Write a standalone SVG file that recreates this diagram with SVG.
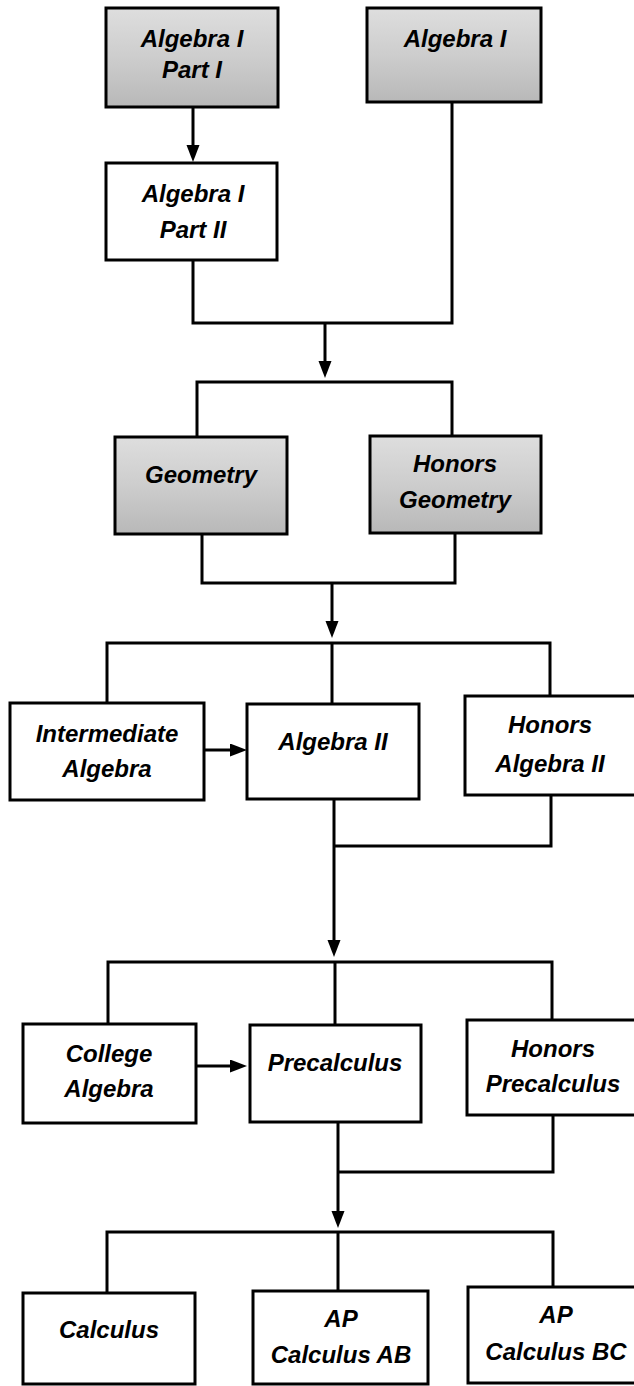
<svg xmlns="http://www.w3.org/2000/svg" width="634" height="1386" viewBox="0 0 634 1386">
<defs>
<linearGradient id="grayFill" x1="0" y1="0" x2="0" y2="1">
<stop offset="0" stop-color="#dedede"/>
<stop offset="0.5" stop-color="#cdcdcd"/>
<stop offset="1" stop-color="#b8b8b8"/>
</linearGradient>
<marker id="arrow" markerUnits="userSpaceOnUse" markerWidth="18" markerHeight="14" refX="7" refY="6.5" orient="auto">
<path d="M0,0 L17,6.5 L0,13 z" fill="#000"/>
</marker>
</defs>
<style>
.box{fill:#fff;stroke:#000;stroke-width:3}
.gbox{fill:url(#grayFill);stroke:#000;stroke-width:3}
.lbl{font-family:"Liberation Sans",Arial,sans-serif;font-weight:bold;font-style:italic;font-size:24px;fill:#000;text-anchor:middle}
.conn{fill:none;stroke:#000;stroke-width:3}
</style>
<rect width="634" height="1386" fill="#fff"/>
<g id="connectors">
<path class="conn" d="M193,107 V152" marker-end="url(#arrow)"/>
<path class="conn" d="M193,260 V323 H452 V102"/>
<path class="conn" d="M325,323 V368" marker-end="url(#arrow)"/>
<path class="conn" d="M197,437 V382 H452 V436"/>
<path class="conn" d="M202,534 V583 H455 V533"/>
<path class="conn" d="M332,583 V628" marker-end="url(#arrow)"/>
<path class="conn" d="M107,703 V643 H550 V696"/>
<path class="conn" d="M332,643 V704"/>
<path class="conn" d="M204,750 H237" marker-end="url(#arrow)"/>
<path class="conn" d="M551,795 V846 H334"/>
<path class="conn" d="M334,799 V947" marker-end="url(#arrow)"/>
<path class="conn" d="M108,1024 V962 H552 V1020"/>
<path class="conn" d="M335,962 V1025"/>
<path class="conn" d="M196,1066 H237" marker-end="url(#arrow)"/>
<path class="conn" d="M553,1115 V1172 H338"/>
<path class="conn" d="M338,1122 V1218" marker-end="url(#arrow)"/>
<path class="conn" d="M107,1293 V1232 H553 V1287"/>
<path class="conn" d="M338,1232 V1291"/>
</g>
<g id="alg1-part1">
<rect class="gbox" x="106" y="8" width="172" height="99"/>
<text class="lbl" x="192" y="47">Algebra I</text>
<text class="lbl" x="192" y="78">Part I</text>
</g>
<g id="alg1">
<rect class="gbox" x="367" y="8" width="174" height="94"/>
<text class="lbl" x="455" y="47">Algebra I</text>
</g>
<g id="alg1-part2">
<rect class="box" x="106" y="163" width="171" height="97"/>
<text class="lbl" x="193" y="202">Algebra I</text>
<text class="lbl" x="193" y="238">Part II</text>
</g>
<g id="geometry">
<rect class="gbox" x="115" y="437" width="172" height="97"/>
<text class="lbl" x="201" y="483">Geometry</text>
</g>
<g id="honors-geometry">
<rect class="gbox" x="370" y="436" width="171" height="97"/>
<text class="lbl" x="455" y="472">Honors</text>
<text class="lbl" x="455" y="508">Geometry</text>
</g>
<g id="intermediate-algebra">
<rect class="box" x="10" y="703" width="194" height="97"/>
<text class="lbl" x="107" y="742">Intermediate</text>
<text class="lbl" x="107" y="777">Algebra</text>
</g>
<g id="algebra2">
<rect class="box" x="247" y="704" width="172" height="95"/>
<text class="lbl" x="333" y="750">Algebra II</text>
</g>
<g id="honors-algebra2">
<rect class="box" x="465" y="696" width="172" height="99"/>
<text class="lbl" x="550" y="733">Honors</text>
<text class="lbl" x="550" y="772">Algebra II</text>
</g>
<g id="college-algebra">
<rect class="box" x="23" y="1024" width="173" height="99"/>
<text class="lbl" x="109" y="1062">College</text>
<text class="lbl" x="109" y="1097">Algebra</text>
</g>
<g id="precalculus">
<rect class="box" x="250" y="1025" width="171" height="97"/>
<text class="lbl" x="335" y="1071">Precalculus</text>
</g>
<g id="honors-precalculus">
<rect class="box" x="467" y="1020" width="170" height="95"/>
<text class="lbl" x="553" y="1057">Honors</text>
<text class="lbl" x="553" y="1092">Precalculus</text>
</g>
<g id="calculus">
<rect class="box" x="23" y="1293" width="172" height="91"/>
<text class="lbl" x="109" y="1338">Calculus</text>
</g>
<g id="ap-calculus-ab">
<rect class="box" x="253" y="1291" width="175" height="93"/>
<text class="lbl" x="341" y="1327">AP</text>
<text class="lbl" x="341" y="1363">Calculus AB</text>
</g>
<g id="ap-calculus-bc">
<rect class="box" x="468" y="1287" width="169" height="96"/>
<text class="lbl" x="556" y="1323">AP</text>
<text class="lbl" x="556" y="1360">Calculus BC</text>
</g>
</svg>
